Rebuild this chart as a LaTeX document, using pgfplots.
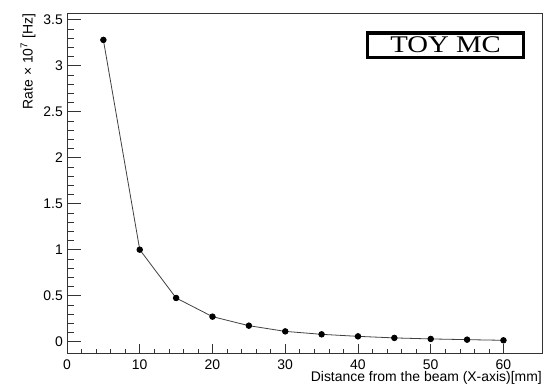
\documentclass[border=0pt]{standalone}
\usepackage{pgfplots}
\pgfplotsset{compat=1.18}
\usepackage{fontspec}
\setmainfont{Liberation Sans}
\newfontfamily\timesfont{Liberation Serif}
\usepackage{graphicx}
\begin{document}
\begin{tikzpicture}
\path[use as bounding box] (0,0) rectangle (544bp,385bp);
% x ticks only
\begin{axis}[
  at={(67bp,32bp)}, anchor=south west,
  scale only axis, width=475bp, height=339.5bp,
  xmin=0, xmax=65.3, ymin=-0.123, ymax=3.567,
  axis line style={draw=none},
  xtick={0,10,...,60}, ytick=\empty,
  minor x tick num=4,
  xtick pos=lower, tick align=inside,
  major tick length=9bp, minor tick length=4.5bp,
  tick style={black!80, line width=0.6bp},
  /pgf/number format/assume math mode=true,
  xticklabel style={font=\fontsize{14}{14}\selectfont, inner sep=0pt, anchor=north, yshift=-6.5bp},
]
\end{axis}
\begin{axis}[
  at={(67bp,32bp)}, anchor=south west,
  scale only axis, width=475bp, height=339.5bp,
  xmin=0, xmax=65.3, ymin=-0.123, ymax=3.567,
  axis line style={line width=0.6bp, black!80},
  xtick=\empty, ytick={0,0.5,...,3.5},
  minor y tick num=4,
  ytick pos=left, tick align=inside,
  major tick length=14bp, minor tick length=7bp,
  tick style={black!80, line width=0.6bp},
  /pgf/number format/assume math mode=true,
  yticklabel style={font=\fontsize{14}{14}\selectfont, inner sep=0pt, anchor=east, xshift=-4bp},
  xlabel={Distance from the beam (X-axis)[mm]},
  ylabel={Rate × 10\textsuperscript{7} [Hz]},
  label style={font=\fontsize{14}{14}\selectfont},
  xlabel style={at={(axis description cs:1,-0.0745)}, anchor=east, inner sep=0pt},
  ylabel style={at={(axis description cs:-0.082,1)}, anchor=east, inner sep=0pt, rotate=0},
]
\addplot[black!75, line width=0.8bp, mark=*, mark size=2.8bp, mark options={fill=black, draw=black}]
coordinates {
(5,3.28) (10,1.0) (15,0.475) (20,0.272) (25,0.174) (30,0.112) (35,0.08)
(40,0.058) (45,0.041) (50,0.030) (55,0.022) (60,0.015)
};
\node[draw=black, line width=3.5bp, minimum width=156bp, minimum height=24.5bp, inner sep=0pt, fill=white]
  at (axis description cs:0.797,0.907) {\scalebox{1.2}[1]{\timesfont\fontsize{24}{24}\selectfont TOY MC}};
\end{axis}
\end{tikzpicture}
\end{document}
